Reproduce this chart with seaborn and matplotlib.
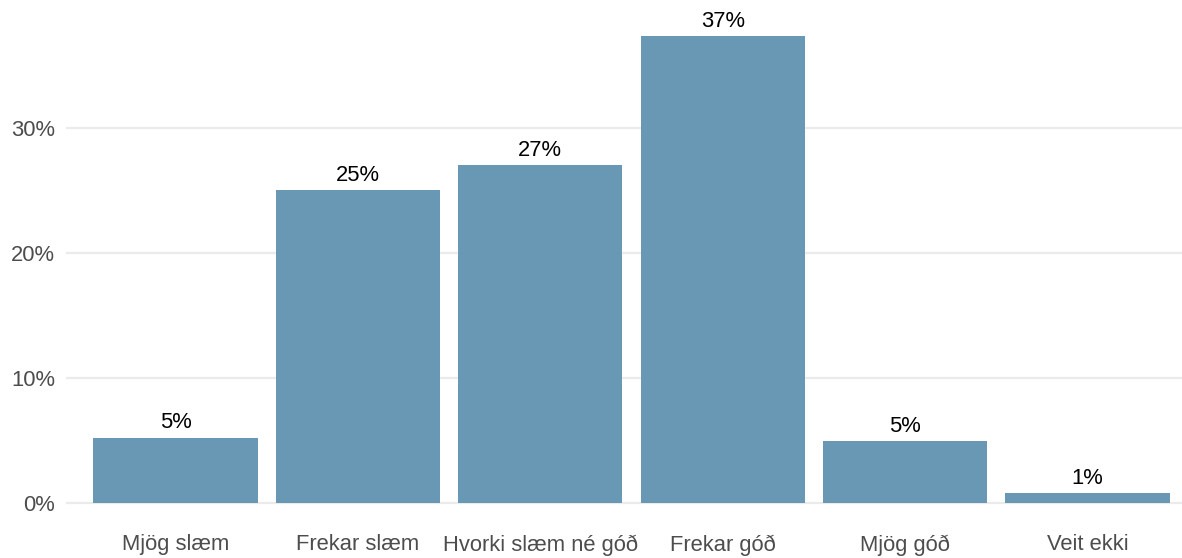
import numpy as np
import pandas as pd
import seaborn as sns
import matplotlib.pyplot as plt

categories = ["Mjög slæm", "Frekar slæm", "Hvorki slæm né góð", "Frekar góð", "Mjög góð", "Veit ekki"]
shares = [5.2, 25.0, 27.0, 37.3, 4.95, 0.8]
labels = ["5%", "25%", "27%", "37%", "5%", "1%"]
yticks = [0, 10, 20, 30]
ytick_labels = ["0%", "10%", "20%", "30%"]

df = pd.DataFrame({"category": categories, "share": shares})

sns.set_style("white")
plt.rcParams["font.family"] = ["Liberation Sans", "DejaVu Sans"]

fig = plt.figure(figsize=(11.82, 5.58), dpi=100)
ax = fig.add_axes([66 / 1182, 32 / 558, 1131 / 1182, 513 / 558])

sns.barplot(x="category", y="share", data=df, color="#6898b3", saturation=1,
            width=0.9, linewidth=0, ax=ax, zorder=2)

for i, (v, lab) in enumerate(zip(shares, labels)):
    ax.annotate(lab, (i, v), xytext=(0, 3), textcoords="offset points",
                ha="center", va="bottom", fontsize=15.8, color="black")

ax.set_xlim(-0.6, len(categories) - 0.4)
ax.set_ylim(-0.05 * max(shares), max(shares) * 1.05)
ax.set_yticks(yticks)
ax.set_yticklabels(ytick_labels)
ax.yaxis.grid(True, color="#ebebeb", linewidth=1.6, zorder=0)
ax.set_axisbelow(True)
ax.tick_params(axis="both", length=0, labelsize=15.8, labelcolor="#4d4d4d")
ax.tick_params(axis="x", pad=6)
ax.tick_params(axis="y", pad=8)
ax.set_xlabel("")
ax.set_ylabel("")
sns.despine(ax=ax, left=True, bottom=True)

fig.savefig("out.png", dpi=100)
